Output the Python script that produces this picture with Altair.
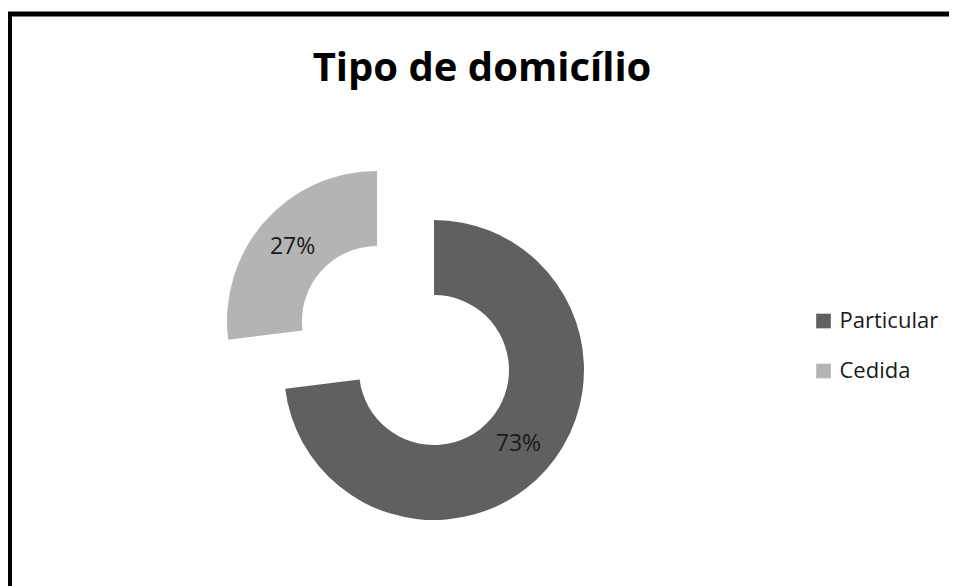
import altair as alt
import pandas as pd

# ---- data ----
categories = ["Particular", "Cedida"]
values = [73, 27]
order = [0, 1]
colors = ["#606060", "#b4b4b4"]

# explosion centers (style): pixel position of each slice centre in the view
centers = {"Particular": (424.5, 356), "Cedida": (367.5, 307)}

df = pd.DataFrame({"tipo": categories, "valor": values, "ordem": order})

theta_scale = alt.Scale(domain=[0, 1])
color_scale = alt.Scale(domain=categories, range=colors)

base = (
    alt.Chart(df)
    .transform_joinaggregate(total="sum(valor)")
    .transform_window(cum="sum(valor)", sort=[alt.SortField("ordem")], frame=[None, 0])
    .transform_calculate(
        start="(datum.cum - datum.valor) / datum.total",
        end="datum.cum / datum.total",
        mid="(datum.cum - datum.valor / 2) / datum.total",
        pct="datum.valor / datum.total",
    )
)

layers = []
for cat in categories:
    cx, cy = centers[cat]
    sub = base.transform_filter(alt.datum.tipo == cat)
    arc = sub.mark_arc(innerRadius=75, outerRadius=150).encode(
        theta=alt.Theta("start:Q", scale=theta_scale),
        theta2="end:Q",
        color=alt.Color(
            "tipo:N",
            scale=color_scale,
            legend=alt.Legend(
                title=None,
                orient="none",
                legendX=803,
                legendY=296,
                symbolType="square",
                symbolSize=215,
                symbolStrokeWidth=0,
                labelFont="Open Sans",
                labelFontSize=22,
                labelColor="#1a1a1a",
                labelOffset=5,
                rowPadding=28,
            ),
        ),
        x=alt.value(cx),
        y=alt.value(cy),
    )
    txt = sub.mark_text(radius=112.5, font="Open Sans", fontSize=23, color="#1a1a1a").encode(
        theta=alt.Theta("mid:Q", scale=theta_scale),
        text=alt.Text("pct:Q", format=".0%"),
        x=alt.value(cx),
        y=alt.value(cy),
    )
    layers += [arc, txt]

chart = (
    alt.layer(*layers)
    .properties(
        width=960,
        height=590,
        background="white",
        autosize=alt.AutoSizeParams(type="none"),
        padding={"left": 1.5, "top": 6, "right": -21, "bottom": 0},
        title=alt.Title(
            "Tipo de domicílio",
            font="Open Sans",
            fontSize=40,
            fontWeight="bold",
            color="black",
            anchor="middle",
            baseline="alphabetic",
            offset=-107,
            dx=-7.5,
        ),
    )
    .configure_view(stroke="black", strokeWidth=5)
)

chart.save("out.html", embed_options={"renderer": "svg", "actions": False})
